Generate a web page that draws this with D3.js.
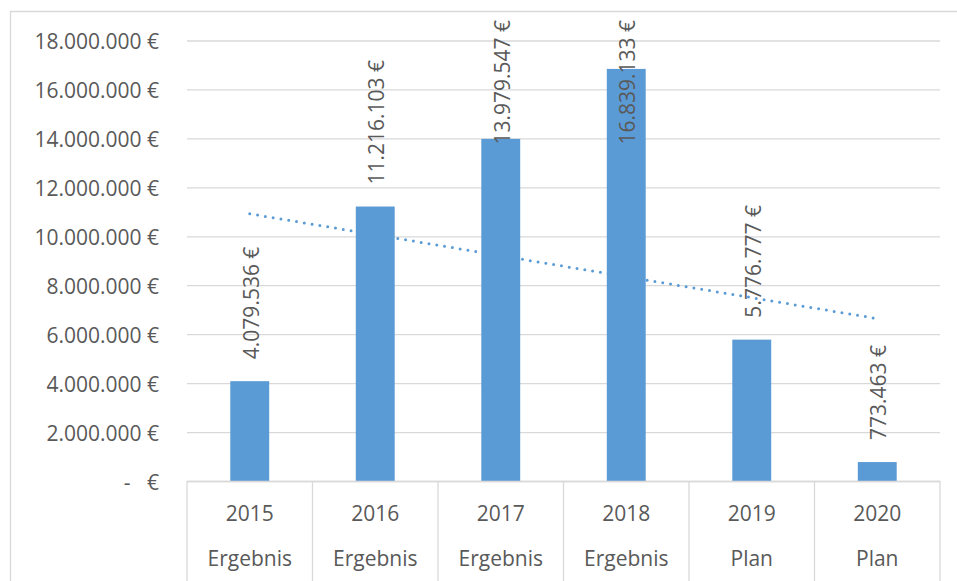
<!DOCTYPE html>
<html>
<head>
<meta charset="utf-8">
<script src="https://cdn.jsdelivr.net/npm/d3@7"></script>
<style>
  html, body { margin: 0; padding: 0; background: #fff; }
  svg { display: block; }
  text { font-family: "Open Sans", "Noto Sans", sans-serif; fill: #595959; }
</style>
</head>
<body>
<svg id="chart" width="957" height="581"></svg>
<script>
const years = ["2015", "2016", "2017", "2018", "2019", "2020"];
const kinds = ["Ergebnis", "Ergebnis", "Ergebnis", "Ergebnis", "Plan", "Plan"];
const values = [4079536, 11216103, 13979547, 16839133, 5776777, 773463];
const yTicks = [0, 2000000, 4000000, 6000000, 8000000, 10000000, 12000000, 14000000, 16000000, 18000000];

const W = 957, H = 581;
const plot = { left: 187, right: 940, top: 40.5, bottom: 481 };
const svg = d3.select("#chart");

const loc = d3.formatLocale({ decimal: ",", thousands: ".", grouping: [3], currency: ["", " €"] });
const fmt = loc.format(",.0f");
const money = v => v === 0 ? "-   €" : fmt(v) + " €";

const x = d3.scaleBand().domain(years).range([plot.left, plot.right]).paddingInner(0.69).paddingOuter(0.345);
const band = d3.scaleBand().domain(years).range([plot.left, plot.right]);
const y = d3.scaleLinear().domain([0, 18000000]).range([plot.bottom, plot.top]);

// chart border (left + top)
svg.append("path")
  .attr("d", `M10.5,${H} L10.5,11.5 L${W},11.5`)
  .attr("fill", "none").attr("stroke", "#d9d9d9").attr("stroke-width", 1.3);

// gridlines
const yAxis = d3.axisLeft(y).tickValues(yTicks).tickSize(-(plot.right - plot.left)).tickFormat(money);
const gy = svg.append("g").attr("transform", `translate(${plot.left},0)`).call(yAxis);
gy.select(".domain").remove();
gy.selectAll(".tick line").attr("stroke", "#d9d9d9").attr("stroke-width", 1.3);
gy.selectAll(".tick text")
  .attr("x", -28).attr("dy", null).attr("dominant-baseline", "central")
  .attr("font-size", 21).attr("fill", "#595959")
  .style("white-space", "pre").attr("xml:space", "preserve");

// bars
svg.append("g").selectAll("rect").data(values).join("rect")
  .attr("x", (d, i) => x(years[i]))
  .attr("width", x.bandwidth())
  .attr("y", d => y(d))
  .attr("height", d => y(0) - y(d))
  .attr("fill", "#5b9bd5");

// category axis box
const gx = svg.append("g");
gx.append("line").attr("x1", plot.left).attr("x2", plot.right).attr("y1", plot.bottom + 0.5).attr("y2", plot.bottom + 0.5)
  .attr("stroke", "#d9d9d9").attr("stroke-width", 1.3);
const seps = years.map(yv => band(yv)).concat([plot.right]);
gx.selectAll("line.sep").data(seps).join("line").attr("class", "sep")
  .attr("x1", d => d).attr("x2", d => d).attr("y1", plot.bottom).attr("y2", H)
  .attr("stroke", "#d9d9d9").attr("stroke-width", 1.3);
gx.selectAll("text.year").data(years).join("text").attr("class", "year")
  .attr("x", d => band(d) + band.bandwidth() / 2).attr("y", 512.5)
  .attr("text-anchor", "middle").attr("dominant-baseline", "central").attr("font-size", 21)
  .text(d => d);
gx.selectAll("text.kind").data(kinds).join("text").attr("class", "kind")
  .attr("x", (d, i) => band(years[i]) + band.bandwidth() / 2).attr("y", 558)
  .attr("text-anchor", "middle").attr("dominant-baseline", "central").attr("font-size", 21)
  .text(d => d);

// linear trendline
const n = values.length;
const xs = values.map((d, i) => i + 1);
const mx = d3.mean(xs), my = d3.mean(values);
const slope = d3.sum(xs, (xv, i) => (xv - mx) * (values[i] - my)) / d3.sum(xs, xv => (xv - mx) ** 2);
const icpt = my - slope * mx;
const cx = i => band(years[i]) + band.bandwidth() / 2;
svg.append("line")
  .attr("x1", cx(0)).attr("y1", y(icpt + slope * 1))
  .attr("x2", cx(n - 1)).attr("y2", y(icpt + slope * n))
  .attr("stroke", "#5b9bd5").attr("stroke-width", 3)
  .attr("stroke-linecap", "round").attr("stroke-dasharray", "0 7.9");

// data labels (rotated)
const lg = svg.append("g");
values.forEach((v, i) => {
  const t = lg.append("text")
    .attr("font-size", 21).attr("fill", "#404040")
    .attr("dominant-baseline", "central")
    .text(money(v));
  const len = t.node().getComputedTextLength();
  let start = y(v) - 22;
  if (start - len < 20) start = 20 + len;
  t.attr("transform", `translate(${cx(i) + 1},${start}) rotate(-90)`);
});
</script>
</body>
</html>
